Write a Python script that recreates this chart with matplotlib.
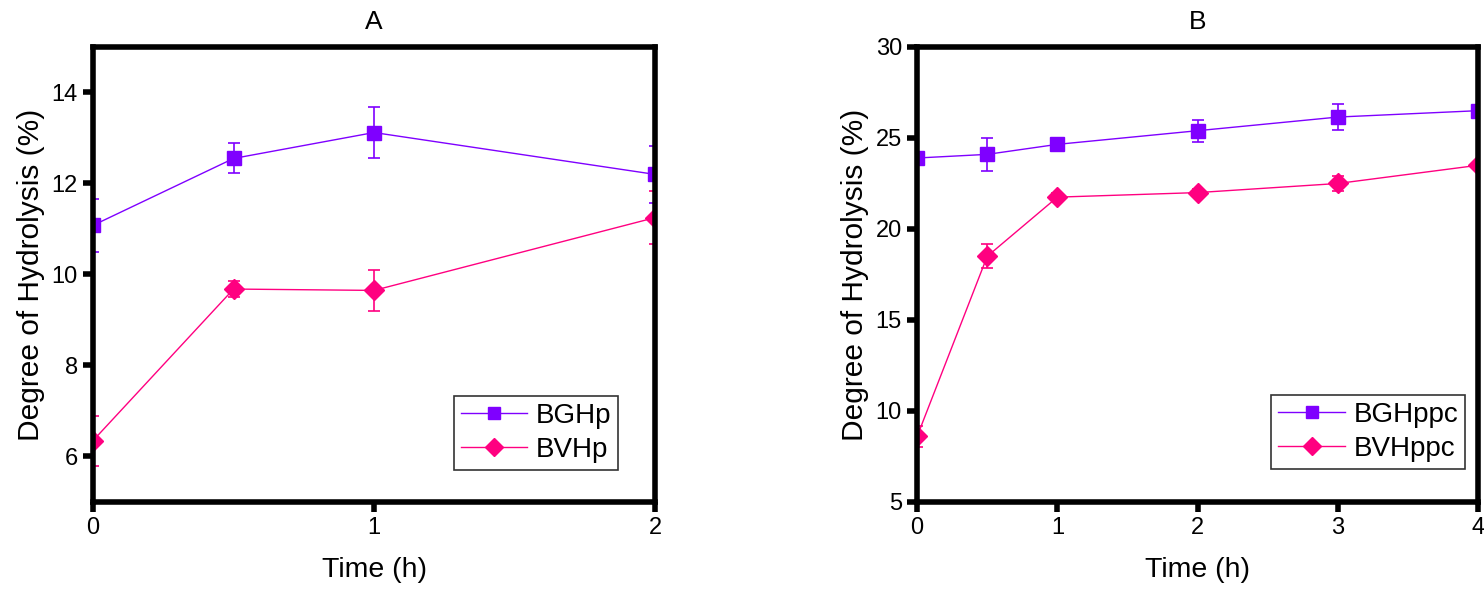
import matplotlib
matplotlib.use('Agg')
from matplotlib import pyplot as plt

plt.rcParams['font.family'] = ['Liberation Sans', 'DejaVu Sans']

# panel A
time_a = [0, 0.5, 1, 2]
bghp = [11.08, 12.55, 13.12, 12.2]
bghp_err = [0.58, 0.33, 0.57, 0.63]
bvhp = [6.35, 9.68, 9.65, 11.25]
bvhp_err = [0.55, 0.17, 0.45, 0.58]

# panel B
time_b = [0, 0.5, 1, 2, 3, 4]
bghppc = [23.9, 24.1, 24.65, 25.4, 26.15, 26.5]
bghppc_err = [0.2, 0.9, 0.2, 0.6, 0.7, 0.2]
bvhppc = [8.6, 18.5, 21.75, 22.0, 22.5, 23.5]
bvhppc_err = [0.6, 0.65, 0.2, 0.2, 0.4, 0.2]

purple = '#7F00FF'
pink = '#FF0080'

fig = plt.figure(figsize=(14.84, 5.91), dpi=100)
ax_a = fig.add_axes([0.0627, 0.1506, 0.3787, 0.7699])
ax_b = fig.add_axes([0.618, 0.1506, 0.378, 0.7699])


def draw(ax, x, s1, e1, s2, e2, names, title, xlim, ylim, yticks, xticks):
    # error bars first, then lines with markers
    ax.errorbar(x, s1, yerr=e1, fmt='none', ecolor=purple, elinewidth=1.2,
                capsize=4, capthick=1.2, zorder=2)
    ax.errorbar(x, s2, yerr=e2, fmt='none', ecolor=pink, elinewidth=1.2,
                capsize=4, capthick=1.2, zorder=2)
    ax.plot(x, s1, color=purple, lw=1.0, marker='s', ms=10, label=names[0], zorder=3)
    ax.plot(x, s2, color=pink, lw=1.0, marker='D', ms=10, label=names[1], zorder=3)
    ax.set_xlim(*xlim)
    ax.set_ylim(*ylim)
    ax.set_xticks(xticks)
    ax.set_yticks(yticks)
    for sp in ax.spines.values():
        sp.set_linewidth(4)
        sp.set_zorder(4)
    ax.tick_params(direction='out', length=7, width=4, labelsize=17, pad=4)
    ax.set_title(title, fontsize=19, pad=13)
    ax.set_xlabel('Time (h)', fontsize=20.5, labelpad=13)
    ax.set_ylabel('Degree of Hydrolysis (%)', fontsize=21.5, labelpad=5)
    leg = ax.legend(loc='lower right', fontsize=20, frameon=True, fancybox=False,
                    handlelength=2.4, handletextpad=0.3, borderpad=0.25,
                    labelspacing=0.3, borderaxespad=0, markerscale=0.9)
    leg.get_frame().set_edgecolor('black')
    leg.get_frame().set_linewidth(1.2)
    return leg


leg_a = draw(ax_a, time_a, bghp, bghp_err, bvhp, bvhp_err, ['BGHp', 'BVHp'], 'A',
             (0, 2), (5, 15), [6, 8, 10, 12, 14], [0, 1, 2])
leg_b = draw(ax_b, time_b, bghppc, bghppc_err, bvhppc, bvhppc_err, ['BGHppc', 'BVHppc'], 'B',
             (0, 4), (5, 30), [5, 10, 15, 20, 25, 30], [0, 1, 2, 3, 4])
leg_a.set_bbox_to_anchor((618 / 1484, 1 - 470 / 591), transform=fig.transFigure)
leg_b.set_bbox_to_anchor((1465 / 1484, 1 - 469 / 591), transform=fig.transFigure)

fig.savefig('out.png', dpi=100)
